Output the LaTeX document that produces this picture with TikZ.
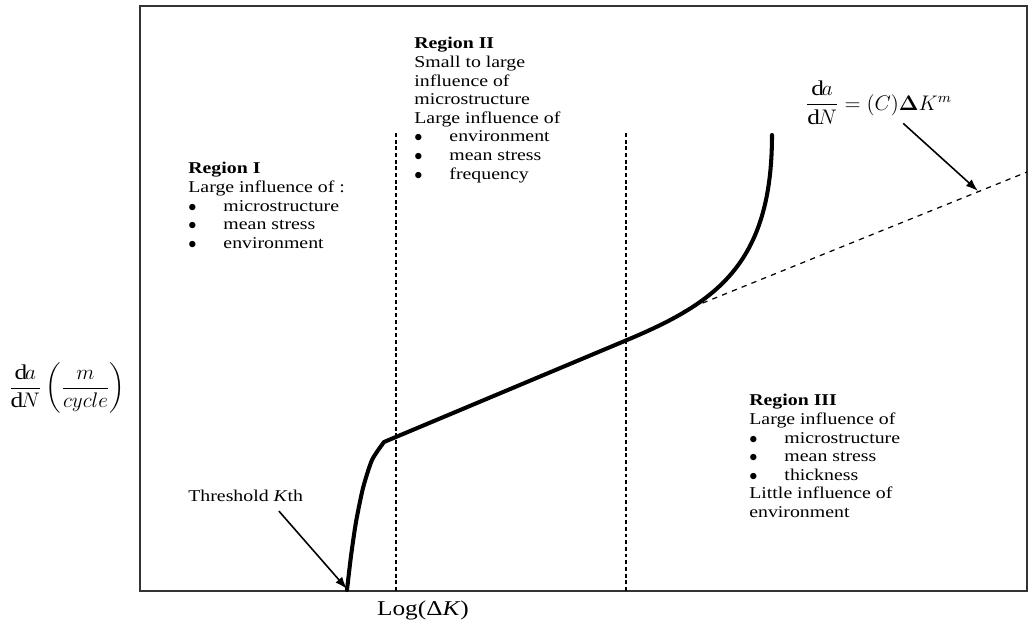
\documentclass[tikz,border=0pt]{standalone}
\usepackage{amsmath,amssymb}
\usepackage{fontspec}
\setmainfont{Liberation Serif}[FakeStretch=1.2]
\usetikzlibrary{positioning,arrows.meta}

\newcommand{\itm}[1]{\makebox[20pt][l]{$\bullet$}#1}

\begin{document}
\begin{tikzpicture}[x=0.02cm, y=-0.02cm,
    txt/.style={anchor=north west, inner sep=0pt, align=left, font=\fontsize{9.4}{10.6}\selectfont},
    guide/.style={dash pattern=on 2.2pt off 1.6pt, line width=0.6pt},
    crack/.style={line width=2.3pt, line join=round, line cap=round},
    pointer/.style={-{Latex[length=7pt,width=5pt]}, line width=0.9pt}]
    \useasboundingbox (0,0) rectangle (1028,622);
    \draw[line width=0.8pt, draw=black!80] (140,6) rectangle (1027,591);

    % axis labels
    \node (ylab) at (67,388) {\large $\dfrac{\mathrm{d}a}{\mathrm{d}N}\left(\dfrac{m}{cycle}\right)$};
    \node (xlab) at (423,610) {\fontsize{12}{13}\selectfont Log(Δ\textit{K})};

    % region boundaries
    \draw[guide] (396,133) -- (396,591);
    \draw[guide] (626,133) -- (626,591);

    % growth curve
    \draw[crack] plot[smooth, tension=0.4] coordinates {(347,590) (351,556) (356,522) (363,488) (372,460) (384,442)}
        -- (627,340) .. controls (715,303) and (772,265) .. (772,135);
    \draw[dashed, line width=0.7pt] (683,311) -- (1027,172);
    \coordinate (kth) at (347,589);
    \coordinate (paris) at (978,191);

    % region texts
    \node[txt] (reg1) at (188,162) {\textbf{Region I}\\ Large influence of :\\ \itm{microstructure}\\ \itm{mean stress}\\ \itm{environment}};
    \node[txt] (reg2) at (414,37) {\textbf{Region II}\\ Small to large\\ influence of\\ microstructure\\ Large influence of\\ \itm{environment}\\ \itm{mean stress}\\ \itm{frequency}};
    \node[txt] (reg3) at (749,394) {\textbf{Region III}\\ Large influence of\\ \itm{microstructure}\\ \itm{mean stress}\\ \itm{thickness}\\ Little influence of\\ environment};

    % pointers
    \node[txt] (thr) at (188,490) {Threshold \textit{K}th};
    \draw[pointer] ([xshift=-14pt, yshift=-5pt]thr.south east) -- (kth);
    \node[anchor=west, inner sep=0pt] (law) at (805,103) {\large $\dfrac{\mathrm{d}a}{\mathrm{d}N} = (C)\boldsymbol{\Delta}K^{m}$};
    \draw[pointer] ([xshift=14pt, yshift=1pt]law.south) -- (paris);
\end{tikzpicture}
\end{document}
